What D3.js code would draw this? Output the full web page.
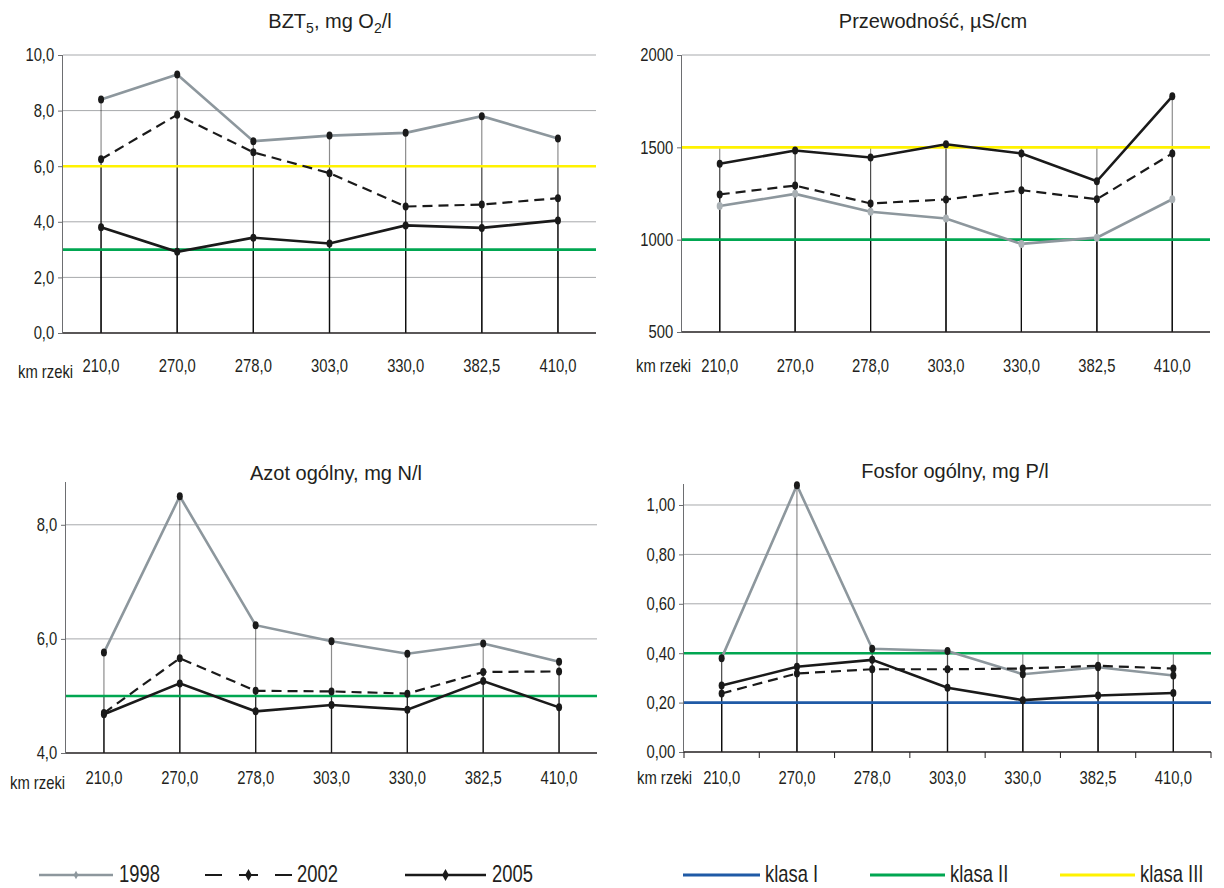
<!DOCTYPE html>
<html>
<head>
<meta charset="utf-8">
<script src="https://cdn.jsdelivr.net/npm/d3@7"></script>
<style>
  html, body { margin: 0; padding: 0; background: #fff; }
  svg { display: block; font-family: "Liberation Sans", Arial, Helvetica, sans-serif; }
</style>
</head>
<body>
<svg id="chart" width="1224" height="888"></svg>
<script>
// River kilometre of each sampling point
const kmLabels = ["210,0", "270,0", "278,0", "303,0", "330,0", "382,5", "410,0"];
const years = ["1998", "2002", "2005"];

// BZT5, mg O2/l
const bzt1998 = [8.4, 9.3, 6.9, 7.1, 7.2, 7.8, 7.0];
const bzt2002 = [6.25, 7.85, 6.5, 5.75, 4.55, 4.62, 4.85];
const bzt2005 = [3.8, 2.92, 3.43, 3.22, 3.87, 3.78, 4.05];
const bztTicks = [0, 2, 4, 6, 8, 10];

// Przewodność, µS/cm
const cond1998 = [1182, 1248, 1151, 1115, 977, 1011, 1219];
const cond2002 = [1245, 1293, 1196, 1218, 1268, 1219, 1467];
const cond2005 = [1411, 1483, 1445, 1517, 1467, 1316, 1776];
const condTicks = [500, 1000, 1500, 2000];

// Azot ogólny, mg N/l
const nit1998 = [5.76, 8.5, 6.24, 5.96, 5.74, 5.92, 5.6];
const nit2002 = [4.7, 5.66, 5.09, 5.08, 5.04, 5.42, 5.43];
const nit2005 = [4.68, 5.22, 4.73, 4.84, 4.76, 5.26, 4.8];
const nitTicks = [4, 6, 8];

// Fosfor ogólny, mg P/l
const pho1998 = [0.38, 1.08, 0.418, 0.409, 0.315, 0.343, 0.31];
const pho2002 = [0.237, 0.318, 0.335, 0.335, 0.338, 0.349, 0.338];
const pho2005 = [0.269, 0.345, 0.373, 0.26, 0.21, 0.229, 0.239];
const phoTicks = [0, 0.2, 0.4, 0.6, 0.8, 1.0];

// Water quality class limits
const classNames = ["klasa I", "klasa II", "klasa III"];
const bztClasses = [null, 3, 6];
const condClasses = [null, 1000, 1500];
const nitClasses = [null, 5, null];
const phoClasses = [0.2, 0.4, null];

const classColors = ["#1f5aa6", "#00a651", "#fff200"];
const yearStyles = [
  { color: "#8d979d", width: 2.6, dash: null, legendDash: null },
  { color: "#1a1a1a", width: 2.2, dash: "10,6", legendDash: "17,17,19,17,17" },
  { color: "#1a1a1a", width: 2.6, dash: null, legendDash: null }
];

const INK = "#231f20";
const TICK_SIZE = 18.5, TICK_SQUEEZE = 0.8;
const LEG_SIZE = 23, LEG_SQUEEZE = 0.8;

const panels = [
  { title: ["BZT", "5", ", mg O", "2", "/l"], titleX: 330, titleY: 28,
    series: [bzt1998, bzt2002, bzt2005], classes: bztClasses,
    domain: [0, 10], ticks: bztTicks, dec: 1,
    left: 63, right: 596, top: 55, bottom: 333, labelY: 372, kmX: 18, kmY: 378,
    marker1998: "#1a1a1a", catTicks: false },
  { title: ["Przewodność, µS/cm"], titleX: 933, titleY: 28,
    series: [cond1998, cond2002, cond2005], classes: condClasses,
    domain: [500, 2000], ticks: condTicks, dec: 0,
    left: 682, right: 1210, top: 55, bottom: 332, labelY: 372, kmX: 636, kmY: 372,
    marker1998: "#a9b0b4", catTicks: false },
  { title: ["Azot ogólny, mg N/l"], titleX: 336, titleY: 480,
    series: [nit1998, nit2002, nit2005], classes: nitClasses,
    domain: [4, 8.75], ticks: nitTicks, dec: 1,
    left: 66, right: 597, top: 482, bottom: 753, labelY: 784, kmX: 10, kmY: 789,
    marker1998: "#1a1a1a", catTicks: false },
  { title: ["Fosfor ogólny, mg P/l"], titleX: 955, titleY: 478,
    series: [pho1998, pho2002, pho2005], classes: phoClasses,
    domain: [0, 1.085], ticks: phoTicks, dec: 2,
    left: 684, right: 1211, top: 484, bottom: 752, labelY: 784, kmX: 637, kmY: 784,
    marker1998: "#1a1a1a", catTicks: true }
];

const svg = d3.select("#chart");
const commaFmt = dec => v => d3.format("." + dec + "f")(v).replace(".", ",");

// Condensed text placed at (x, y)
function ctext(parent, x, y, str, size, squeeze, anchor) {
  return parent.append("text")
    .attr("transform", `translate(${x},${y}) scale(${squeeze},1)`)
    .attr("text-anchor", anchor || "start")
    .attr("font-size", size).attr("fill", INK)
    .text(str);
}

panels.forEach(p => {
  const g = svg.append("g");
  const x = d3.scaleBand().domain(kmLabels).range([p.left, p.right]);
  const y = d3.scaleLinear().domain(p.domain).range([p.bottom, p.top]);
  const cx = k => x(k) + x.bandwidth() / 2;

  // Title (with optional subscripts)
  const t = g.append("text")
    .attr("x", p.titleX).attr("y", p.titleY)
    .attr("text-anchor", "middle").attr("font-size", 20).attr("fill", INK);
  p.title.forEach((part, i) => {
    const sub = p.title.length > 1 && i % 2 === 1;
    t.append("tspan").text(part)
      .attr("font-size", sub ? 14 : 20)
      .attr("dy", sub ? 5 : (i > 0 ? -5 : 0));
  });

  // Horizontal gridlines
  g.append("g").selectAll("line")
    .data(p.ticks.filter(v => v !== p.domain[0]))
    .join("line")
    .attr("x1", p.left).attr("x2", p.right)
    .attr("y1", d => y(d)).attr("y2", d => y(d))
    .attr("stroke", "#a7a9ac").attr("stroke-width", 1);

  // Drop lines from every series and class limit down to the category axis
  const dropSets = p.series.concat(p.classes.filter(c => c !== null).map(c => kmLabels.map(() => c)));
  dropSets.forEach(vals => {
    g.append("g").selectAll("line")
      .data(kmLabels)
      .join("line")
      .attr("x1", d => cx(d)).attr("x2", d => cx(d))
      .attr("y1", (d, i) => y(vals[i])).attr("y2", p.bottom)
      .attr("stroke", "#000").attr("stroke-opacity", 0.45).attr("stroke-width", 1.2);
  });

  // Class limit lines
  p.classes.forEach((c, i) => {
    if (c === null) return;
    g.append("line")
      .attr("x1", p.left).attr("x2", p.right)
      .attr("y1", y(c)).attr("y2", y(c))
      .attr("stroke", classColors[i]).attr("stroke-width", 2.6);
  });

  // Y axis
  const yAxis = d3.axisLeft(y).tickValues(p.ticks).tickFormat(commaFmt(p.dec))
    .tickSize(5).tickPadding(6);
  const ya = g.append("g").attr("transform", `translate(${p.left},0)`).call(yAxis);
  ya.select(".domain").attr("stroke", "#6d6e71").attr("d", `M-0.5,${p.bottom}V${p.top}`);
  ya.selectAll(".tick line").attr("stroke", "#6d6e71");
  ya.selectAll("text")
    .attr("font-family", "Liberation Sans, Arial, sans-serif")
    .attr("font-size", TICK_SIZE).attr("fill", INK)
    .attr("transform", `scale(${TICK_SQUEEZE},1)`);

  // X axis line
  const xa = g.append("g").attr("transform", `translate(0,${p.bottom})`);
  xa.append("line").attr("x1", p.left).attr("x2", p.right)
    .attr("stroke", INK).attr("stroke-width", 1.5);
  if (p.catTicks) {
    xa.selectAll("line.ct")
      .data(d3.range(kmLabels.length + 1))
      .join("line").attr("class", "ct")
      .attr("x1", i => p.left + i * x.step()).attr("x2", i => p.left + i * x.step())
      .attr("y1", 0).attr("y2", 6).attr("stroke", INK);
  }
  const xl = g.append("g");
  kmLabels.forEach(k => ctext(xl, cx(k), p.labelY, k, TICK_SIZE, TICK_SQUEEZE, "middle"));
  ctext(g, p.kmX, p.kmY, "km rzeki", TICK_SIZE, TICK_SQUEEZE, "start");

  // Series lines and markers
  const line = d3.line().x((d, i) => cx(kmLabels[i])).y(d => y(d));
  p.series.forEach((vals, si) => {
    const st = yearStyles[si];
    g.append("path").datum(vals)
      .attr("d", line).attr("fill", "none")
      .attr("stroke", st.color).attr("stroke-width", st.width)
      .attr("stroke-dasharray", st.dash);
  });
  p.series.forEach((vals, si) => {
    g.append("g").selectAll("ellipse")
      .data(vals).join("ellipse")
      .attr("cx", (d, i) => cx(kmLabels[i])).attr("cy", d => y(d))
      .attr("rx", 3).attr("ry", 4)
      .attr("fill", si === 0 ? p.marker1998 : "#1a1a1a");
  });
});

// Legend
const legY = 875;
const legTextY = 882;
const lg = svg.append("g");
const yearLegend = [
  { x1: 39, x2: 113, tx: 119 },
  { x1: 205, x2: 292, tx: 297 },
  { x1: 405, x2: 486, tx: 492 }
];
years.forEach((yr, i) => {
  const L = yearLegend[i], st = yearStyles[i];
  lg.append("line").attr("x1", L.x1).attr("x2", L.x2).attr("y1", legY).attr("y2", legY)
    .attr("stroke", st.color).attr("stroke-width", st.width)
    .attr("stroke-dasharray", st.legendDash);
  lg.append("path")
    .attr("d", d3.symbol(d3.symbolDiamond, i === 0 ? 20 : 40)())
    .attr("transform", `translate(${(L.x1 + L.x2) / 2},${legY})`)
    .attr("fill", i === 0 ? "#8d979d" : "#1a1a1a");
  ctext(lg, L.tx, legTextY, yr, LEG_SIZE, LEG_SQUEEZE, "start");
});
const classLegend = [
  { x1: 683, x2: 760, tx: 765 },
  { x1: 870, x2: 945, tx: 950 },
  { x1: 1060, x2: 1135, tx: 1140 }
];
classNames.forEach((nm, i) => {
  const L = classLegend[i];
  lg.append("line").attr("x1", L.x1).attr("x2", L.x2).attr("y1", legY).attr("y2", legY)
    .attr("stroke", classColors[i]).attr("stroke-width", 3);
  ctext(lg, L.tx, legTextY, nm, LEG_SIZE, LEG_SQUEEZE, "start");
});
</script>
</body>
</html>
